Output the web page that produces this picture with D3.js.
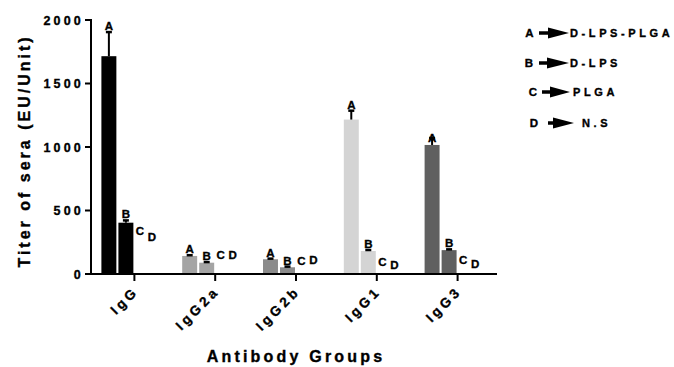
<!DOCTYPE html>
<html>
<head>
<meta charset="utf-8">
<script src="https://cdn.jsdelivr.net/npm/d3@7"></script>
<style>
  html, body { margin: 0; padding: 0; background: #fff; }
  svg { display: block; }
  text { font-family: "Liberation Sans", Arial, sans-serif; font-weight: bold; fill: #000; stroke: #000; stroke-width: 0.35px; }
</style>
</head>
<body>
<svg id="chart" width="674" height="367"></svg>
<script>
// Antibody titer data (EU/Unit), one bar per formulation within each antibody group
const groups = ["IgG", "IgG2a", "IgG2b", "IgG1", "IgG3"];
const formulations = ["A", "B", "C", "D"];
const valuesA = [1715, 142, 116, 1216, 1016];
const errorsA = [190, 6, 5, 70, 55];
const valuesB = [404, 89, 53, 181, 188];
const errorsB = [18, 5, 5, 8, 6];
const valuesC = [0, 0, 0, 0, 0];
const valuesD = [0, 0, 0, 0, 0];
const groupColors = ["#000000", "#a4a4a4", "#8b8b8b", "#d4d4d4", "#606060"];
const yTicks = [0, 500, 1000, 1500, 2000];
const legendKeys = ["A", "B", "C", "D"];
const legendNames = ["D-LPS-PLGA", "D-LPS", "PLGA", "N.S"];

// Heights (in titer units) at which the C / D letters sit in each group
const letterLiftC = [339, 150, 110, 102, 118];
const letterLiftD = [299, 150, 118, 71, 79];

const svg = d3.select("#chart");
const axisLeft = 91, axisRight = 497, y0 = 274, yTop = 20;

const y = d3.scaleLinear().domain([0, 2000]).range([y0, yTop]);
const x = d3.scaleBand().domain(groups).range([94, 498]);
const xi = d3.scaleBand().domain(formulations).range([-33, 33]).paddingInner(0.12);

const center = g => x(g) + x.bandwidth() / 2;

const rows = groups.map((g, i) => ({
  g, i,
  vals: [valuesA[i], valuesB[i], valuesC[i], valuesD[i]],
  errs: [errorsA[i], errorsB[i], 0, 0]
}));

// Bars
const gBars = svg.append("g");
rows.forEach(r => {
  formulations.forEach((f, k) => {
    const v = r.vals[k];
    if (v <= 0) return;
    gBars.append("rect")
      .attr("x", center(r.g) + xi(f))
      .attr("y", y(v))
      .attr("width", xi.bandwidth())
      .attr("height", y(0) - y(v))
      .attr("fill", groupColors[r.i]);
  });
});

// Upper error bars
rows.forEach(r => {
  [0, 1].forEach(k => {
    const v = r.vals[k], e = r.errs[k];
    const cx = center(r.g) + xi(formulations[k]) + xi.bandwidth() / 2;
    svg.append("line")
      .attr("x1", cx).attr("x2", cx)
      .attr("y1", y(v)).attr("y2", y(v + e))
      .attr("stroke", "#000").attr("stroke-width", 2);
    svg.append("line")
      .attr("x1", cx - 3).attr("x2", cx + 3)
      .attr("y1", y(v + e)).attr("y2", y(v + e))
      .attr("stroke", "#000").attr("stroke-width", 2.5);
  });
});

// Letter annotations above the bars
const letterSize = "11.5px";
rows.forEach(r => {
  const c = center(r.g);
  // A and B sit just above the error cap
  [0, 1].forEach(k => {
    const cx = c + xi(formulations[k]) + xi.bandwidth() / 2;
    let base = y(r.vals[k] + r.errs[k]) - 2;
    if (r.g === "IgG3" && k === 0) base += 6;
    svg.append("text")
      .attr("x", cx).attr("y", base)
      .attr("text-anchor", "middle")
      .style("font-size", letterSize)
      .text(formulations[k]);
  });
  const cxC = c + xi("C") + xi.bandwidth() / 2 - 3;
  const cxD = c + xi("D") + xi.bandwidth() / 2 - 8;
  svg.append("text")
    .attr("x", cxC).attr("y", y(letterLiftC[r.i]) + 4.5)
    .attr("text-anchor", "middle").style("font-size", letterSize).text("C");
  svg.append("text")
    .attr("x", cxD).attr("y", y(letterLiftD[r.i]) + 4.5)
    .attr("text-anchor", "middle").style("font-size", letterSize).text("D");
});

// Y axis
svg.append("line")
  .attr("x1", axisLeft).attr("x2", axisLeft)
  .attr("y1", y(2000) - 1).attr("y2", y0 + 1)
  .attr("stroke", "#000").attr("stroke-width", 2);
const gy = svg.append("g");
yTicks.forEach(t => {
  gy.append("line")
    .attr("x1", axisLeft - 6).attr("x2", axisLeft)
    .attr("y1", y(t)).attr("y2", y(t))
    .attr("stroke", "#000").attr("stroke-width", 2);
  gy.append("text")
    .attr("x", 84).attr("y", y(t) + 4.5)
    .attr("text-anchor", "end")
    .style("font-size", "12.5px")
    .style("letter-spacing", "3.2px")
    .text(t);
});

// X axis
svg.append("line")
  .attr("x1", axisLeft - 1).attr("x2", axisRight)
  .attr("y1", y0).attr("y2", y0)
  .attr("stroke", "#000").attr("stroke-width", 2);
groups.forEach(g => {
  const c = center(g);
  svg.append("line")
    .attr("x1", c).attr("x2", c)
    .attr("y1", y0).attr("y2", y0 + 7)
    .attr("stroke", "#000").attr("stroke-width", 2);
  svg.append("text")
    .attr("transform", `translate(${c + 5},${y0 + 18}) rotate(-45)`)
    .attr("text-anchor", "end")
    .style("font-size", "13.5px")
    .style("letter-spacing", "3.5px")
    .text(g);
});

// Axis titles
svg.append("text")
  .attr("transform", `translate(30,${(yTop + y0) / 2 + 4}) rotate(-90)`)
  .attr("text-anchor", "middle")
  .style("font-size", "16px")
  .style("letter-spacing", "3px")
  .text("Titer of sera (EU/Unit)");
svg.append("text")
  .attr("x", 296).attr("y", 362)
  .attr("text-anchor", "middle")
  .style("font-size", "16px")
  .style("letter-spacing", "3.2px")
  .text("Antibody Groups");

// Legend: letter -> arrow -> formulation name
const legendLayout = [
  { lx: 529.5, ly: 37, sx: 539, tx: 548, tip: 569, nx: 570 },
  { lx: 529, ly: 67, sx: 539, tx: 547, tip: 569, nx: 570 },
  { lx: 533, ly: 96, sx: 542, tx: 550, tip: 570, nx: 573 },
  { lx: 534, ly: 127, sx: 548, tx: 553, tip: 574, nx: 582 }
];
const gLeg = svg.append("g");
legendKeys.forEach((k, i) => {
  const L = legendLayout[i];
  const my = L.ly - 4;
  gLeg.append("text")
    .attr("x", L.lx).attr("y", L.ly)
    .attr("text-anchor", "middle")
    .style("font-size", "11.5px")
    .text(k);
  gLeg.append("line")
    .attr("x1", L.sx).attr("x2", L.tx + 1)
    .attr("y1", my).attr("y2", my)
    .attr("stroke", "#000").attr("stroke-width", 3.5);
  gLeg.append("path")
    .attr("d", `M${L.tx},${my - 5.5}L${L.tip},${my}L${L.tx},${my + 5.5}Z`)
    .attr("fill", "#000");
  gLeg.append("text")
    .attr("x", L.nx).attr("y", L.ly)
    .style("font-size", "11px")
    .style("letter-spacing", "3.6px")
    .text(legendNames[i]);
});
</script>
</body>
</html>
